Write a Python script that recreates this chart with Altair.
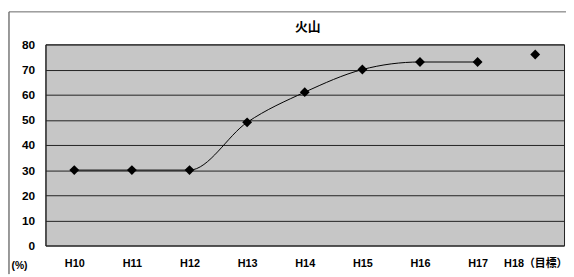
import altair as alt
import pandas as pd

years = ["H10", "H11", "H12", "H13", "H14", "H15", "H16", "H17", "H18（目標）"]
actual = [30, 30, 30, 49, 61, 70, 73, 73, None]
target = [None, None, None, None, None, None, None, None, 76]
title_text = ["火山"]

df = pd.DataFrame({"year": years, "actual": actual, "target": target})
line_df = df.dropna(subset=["actual"])
tgt_df = df.dropna(subset=["target"])
title_df = pd.DataFrame({"t": title_text})

FONT = "Liberation Sans, Noto Sans CJK JP"

x = alt.X("year:N", sort=years, title=None,
          scale=alt.Scale(paddingInner=0, paddingOuter=0.5),
          axis=alt.Axis(labelAngle=0, ticks=False, labelPadding=12, domain=False,
                        labelFont=FONT, labelFontWeight="bold", labelFontSize=11,
                        labelColor="#000", grid=False))
yax = alt.Axis(values=[0, 10, 20, 30, 40, 50, 60, 70, 80], ticks=False, labelPadding=11,
               labelOverlap=False, tickCount=9,
               domain=True, domainColor="#222", grid=True, gridColor="#222", gridWidth=1,
               labelFont=FONT, labelFontWeight="bold", labelFontSize=12, labelColor="#000",
               title="(%)", titleAngle=0, titleX=-35, titleY=224, titleAlign="left",
               titleBaseline="middle", titleFont=FONT, titleFontSize=10.5,
               titleFontWeight="bold", titleColor="#000")
yscale = alt.Scale(domain=[0, 80])

line = alt.Chart(line_df).mark_line(color="#000", strokeWidth=1, interpolate="monotone").encode(
    x=x, y=alt.Y("actual:Q", scale=yscale, axis=yax))
pts = alt.Chart(line_df).mark_point(shape="diamond", filled=True, color="#000", size=100, opacity=1).encode(
    x=x, y=alt.Y("actual:Q", scale=yscale, axis=yax))
tgt = alt.Chart(tgt_df).mark_point(shape="diamond", filled=True, color="#000", size=100, opacity=1).encode(
    x=x, y=alt.Y("target:Q", scale=yscale, axis=yax))

title = alt.Chart(title_df).mark_text(font="Noto Sans CJK JP", fontSize=13, fontWeight="bold",
                                      color="#000", baseline="middle", align="center").encode(
    text="t:N", x=alt.value(266), y=alt.value(-18))

border_l = alt.Chart(title_df).mark_rule(color="#333", strokeWidth=1).encode(
    x=alt.value(-37), y=alt.value(-33), y2=alt.value(233))
border_t = alt.Chart(title_df).mark_rule(color="#666", strokeWidth=1).encode(
    x=alt.value(-37), x2=alt.value(528), y=alt.value(-33))

chart = alt.layer(border_l, border_t, line, pts, tgt, title).properties(
    width=526, height=204,
    background="white",
    autosize=alt.AutoSizeParams(type="none"),
    padding={"left": 38, "top": 35, "right": 2, "bottom": 30},
).configure_view(fill="#c6c6c6", stroke="#222", strokeWidth=1)

chart.save("out.html", embed_options={"renderer": "svg", "actions": False})
